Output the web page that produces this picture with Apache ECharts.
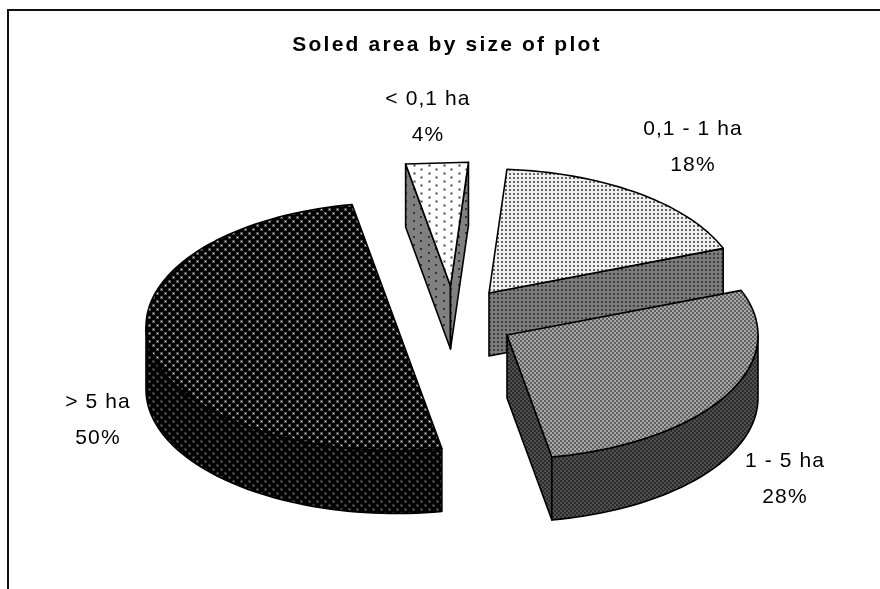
<!DOCTYPE html>
<html><head><meta charset="utf-8"><style>html,body{margin:0;padding:0;background:#fff}#c{width:880px;height:589px}</style>
<script src="https://cdn.jsdelivr.net/npm/echarts@6/dist/echarts.min.js"></script></head>
<body><div id="c"></div>
<script>
var titleText = 'Soled area by size of plot';
var categories = ['< 0,1 ha', '0,1 - 1 ha', '1 - 5 ha', '> 5 ha'];
var shares = [4, 18, 28, 50];

// layout of the exploded, tilted pie
var RX = 251, RY = 124, DEPTH = 63, START_DEG = -10.3;
var centres = [[450.5, 286], [489, 293], [507, 335], [397, 326.5]];
var labelPos = [[428, 117], [693, 147], [785, 479], [98, 420]];

// the source spreads its letters; canvas text has a letterSpacing property for that
var rawFill = CanvasRenderingContext2D.prototype.fillText;
CanvasRenderingContext2D.prototype.fillText = function (t, x, y, m) {
  this.letterSpacing = t === titleText ? '2.2px' : '1.1px';
  return m === undefined ? rawFill.call(this, t, x, y) : rawFill.call(this, t, x, y, m);
};

function pat(w, h, bg, cells) {
  var c = document.createElement('canvas'); c.width = w; c.height = h;
  var g = c.getContext('2d'); g.fillStyle = bg; g.fillRect(0, 0, w, h);
  cells.forEach(function (d) { g.fillStyle = d[3]; g.fillRect(d[0], d[1], d[2], d[2]); });
  return { image: c, repeat: 'repeat' };
}
var tops = [
  pat(15, 8, '#ffffff', [[0, 0, 3, '#bbb'], [1, 1, 1, '#222'], [8, 4, 3, '#bbb'], [9, 5, 1, '#222']]),
  pat(4, 4, '#f0f0f0', [[1, 1, 2, '#666']]),
  pat(4, 4, '#a8a8a8', [[0, 0, 2, '#606060'], [2, 2, 2, '#606060']]),
  pat(8, 8, '#000000', [[0, 0, 3, '#4a4a4a'], [1, 1, 1, '#f0f0f0'], [4, 4, 3, '#4a4a4a'], [5, 5, 1, '#f0f0f0']])
];
var sides = [
  pat(15, 8, '#808080', [[0, 0, 2, '#333'], [8, 4, 2, '#333']]),
  pat(4, 4, '#7c7c7c', [[1, 1, 2, '#404040']]),
  pat(4, 4, '#505050', [[0, 0, 2, '#2c2c2c'], [2, 2, 2, '#2c2c2c']]),
  pat(8, 8, '#000000', [[0, 0, 3, '#2a2a2a'], [1, 1, 1, '#808080'], [4, 4, 3, '#2a2a2a'], [5, 5, 1, '#808080']])
];

var total = shares.reduce(function (a, b) { return a + b; }, 0);
var rad = function (d) { return d * Math.PI / 180; };
function rimPoint(c, deg, dz) {
  return [c[0] + RX * Math.sin(rad(deg)), c[1] - RY * Math.cos(rad(deg)) + (dz || 0)];
}
function arc(c, a, b, dz) {
  var pts = [], span = Math.abs(b - a), n = span < 20 ? 1 : Math.ceil(span / 2);
  for (var i = 0; i <= n; i++) pts.push(rimPoint(c, a + (b - a) * i / n, dz));
  return pts;
}
function poly(points, fill, z) {
  return { type: 'polygon', z2: z, shape: { points: points },
    style: { fill: fill, stroke: '#000', lineWidth: 1.6, lineJoin: 'round' } };
}
var accum = shares.map(function (v, i) { return shares.slice(0, i).reduce(function (a, b) { return a + b; }, 0); });

function renderItem(params, api) {
  var i = api.value(0), v = api.value(1);
  var a0 = START_DEG + accum[i] / total * 360, a1 = a0 + v / total * 360;
  var c = centres[i], under = [c[0], c[1] + DEPTH], kids = [];
  // radial walls that face the viewer
  var wallAt = i === 0 ? [a0, a1] : (i === 3 ? [] : [a1]);
  wallAt.forEach(function (a) {
    var p = rimPoint(c, a);
    kids.push(poly([c, p, [p[0], p[1] + DEPTH], under], sides[i], 1));
  });
  // outer wall: only the part of the rim facing the viewer
  var from = Math.max(a0, 90), to = Math.min(a1, 270);
  if (to > from) {
    kids.push(poly(arc(c, from, to, 0).concat(arc(c, to, from, DEPTH)), sides[i], 2));
  }
  // top face
  kids.push(poly([c].concat(arc(c, a0, a1, 0)), tops[i], 3));
  // label
  kids.push({ type: 'text', z2: 5, style: {
    x: labelPos[i][0], y: labelPos[i][1], text: categories[i] + '\n' + Math.round(v / total * 100) + '%',
    fill: '#000', font: '21px "Liberation Sans", Arial, sans-serif', align: 'center', verticalAlign: 'middle', lineHeight: 36
  } });
  return { type: 'group', children: kids };
}

var chart = echarts.init(document.getElementById('c'), null, { renderer: 'canvas' });
chart.setOption({
  animation: false,
  backgroundColor: '#fff',
  title: { text: titleText, left: 442, top: 30, textAlign: 'center',
    textStyle: { fontFamily: '"Liberation Sans", Arial, sans-serif', fontSize: 21, fontWeight: 'bold', color: '#000' } },
  graphic: [{ type: 'polyline', silent: true, shape: { points: [[8, 589], [8, 10], [880, 10]] },
    style: { stroke: '#111', lineWidth: 2, fill: null } }],
  series: [{
    type: 'custom', coordinateSystem: 'none', renderItem: renderItem, silent: true,
    data: shares.map(function (v, i) { return [i, v]; }),
    encode: { value: 1 }
  }]
});
</script></body></html>
